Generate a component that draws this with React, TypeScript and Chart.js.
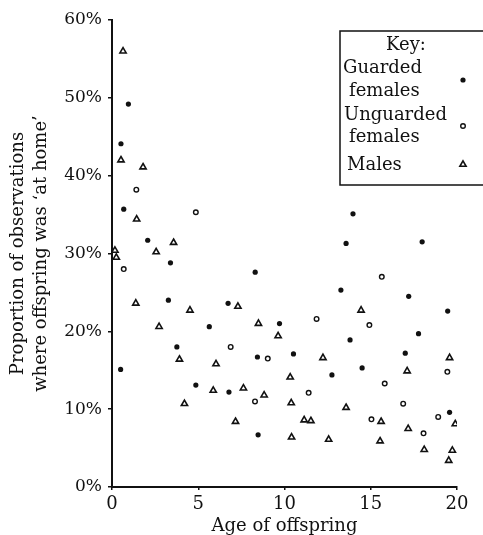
import React, { useEffect, useRef } from "react";
import { Chart, registerables } from "chart.js";

Chart.register(...registerables);

// Guarded females (filled dots)
const guardedX = [0.95, 0.52, 0.68, 2.07, 3.39, 3.27, 6.73, 5.64, 3.76, 0.5, 4.86, 6.78, 13.97, 13.57, 17.98, 8.3, 13.27, 17.2, 19.46, 9.71, 17.77, 13.8, 8.43, 10.52, 17.0, 12.75, 14.5, 19.57, 8.47];
const guardedY = [49.2, 44.1, 35.7, 31.7, 28.8, 24.0, 23.6, 20.6, 18.0, 15.1, 13.1, 12.2, 35.1, 31.3, 31.5, 27.6, 25.3, 24.5, 22.6, 21.0, 19.7, 18.9, 16.7, 17.1, 17.2, 14.4, 15.3, 9.6, 6.7];

// Unguarded females (open circles)
const unguardedX = [1.41, 4.86, 0.68, 6.88, 15.64, 11.86, 14.92, 9.03, 15.81, 19.44, 8.29, 11.4, 16.88, 18.91, 15.04, 18.06];
const unguardedY = [38.2, 35.3, 28.0, 18.0, 27.0, 21.6, 20.8, 16.5, 13.3, 14.8, 11.0, 12.1, 10.7, 9.0, 8.7, 6.9];

// Males (open triangles)
const malesX = [0.64, 0.52, 1.8, 1.43, 3.57, 0.17, 0.25, 2.56, 1.38, 4.52, 7.3, 2.73, 3.91, 6.03, 5.87, 4.2, 7.16, 14.44, 8.49, 9.63, 12.23, 19.57, 10.33, 17.11, 7.62, 8.82, 10.39, 13.57, 11.14, 11.53, 15.6, 19.9, 17.17, 10.41, 12.56, 15.54, 18.1, 19.73, 19.52];
const malesY = [56.0, 42.0, 41.1, 34.4, 31.4, 30.4, 29.5, 30.2, 23.6, 22.7, 23.2, 20.6, 16.4, 15.8, 12.4, 10.7, 8.4, 22.7, 21.0, 19.4, 16.6, 16.6, 14.1, 14.9, 12.7, 11.8, 10.8, 10.2, 8.6, 8.5, 8.4, 8.1, 7.5, 6.4, 6.1, 5.9, 4.8, 4.7, 3.4];

const yMin = 0;
const yMax = 60;
const yStep = 10;
const xMin = 0;
const xMax = 20;
const xStep = 5;

const xTitle = "Age of offspring";
const yTitle = ["Proportion of observations", "where offspring was \u2018at home\u2019"];
const legendTitle = "Key:";
const legendLabels = [["Guarded", "females"], ["Unguarded", "females"], ["Males"]];

const FONT = "'DejaVu Serif', serif";
const INK = "#111";

function toPoints(xs: number[], ys: number[]) {
  return xs.map((x, i) => ({ x, y: ys[i] }));
}

const legendPlugin = {
  id: "keyBox",
  afterDraw(chart: any) {
    const ctx = chart.ctx as CanvasRenderingContext2D;
    ctx.save();
    ctx.strokeStyle = INK;
    ctx.lineWidth = 1.5;
    ctx.fillStyle = "#fff";
    ctx.fillRect(340, 31, 160, 154);
    ctx.strokeRect(340, 31, 160, 154);
    ctx.fillStyle = INK;
    ctx.font = `18px ${FONT}`;
    ctx.textBaseline = "middle";
    ctx.textAlign = "center";
    ctx.fillText(legendTitle, 406, 45);
    ctx.textAlign = "left";
    ctx.fillText(legendLabels[0][0], 343, 68);
    ctx.fillText(legendLabels[0][1], 349, 91);
    ctx.fillText(legendLabels[1][0], 344, 115);
    ctx.fillText(legendLabels[1][1], 349, 137);
    ctx.fillText(legendLabels[2][0], 347, 165);
    // markers
    ctx.beginPath();
    ctx.arc(463, 80, 2.6, 0, Math.PI * 2);
    ctx.fill();
    ctx.beginPath();
    ctx.lineWidth = 1.4;
    ctx.arc(463, 126, 2.3, 0, Math.PI * 2);
    ctx.stroke();
    ctx.beginPath();
    ctx.lineWidth = 1.6;
    const r = 3.6;
    const cx = 463, cy = 164.5;
    for (let k = 0; k < 3; k++) {
      const a = (k * 2 * Math.PI) / 3;
      const px = cx + Math.sin(a) * r;
      const py = cy - Math.cos(a) * r;
      if (k === 0) ctx.moveTo(px, py);
      else ctx.lineTo(px, py);
    }
    ctx.closePath();
    ctx.stroke();
    ctx.restore();
  },
};

export default function App() {
  const ref = useRef<HTMLCanvasElement | null>(null);
  useEffect(() => {
    if (!ref.current) return;
    const chart = new Chart(ref.current, {
      type: "scatter",
      data: {
        datasets: [
          {
            label: "Guarded females",
            data: toPoints(guardedX, guardedY),
            pointStyle: "circle",
            pointRadius: 2.6,
            backgroundColor: INK,
            borderColor: INK,
            borderWidth: 0,
          },
          {
            label: "Unguarded females",
            data: toPoints(unguardedX, unguardedY),
            pointStyle: "circle",
            pointRadius: 2.3,
            backgroundColor: "#fff",
            borderColor: INK,
            borderWidth: 1.4,
          },
          {
            label: "Males",
            data: toPoints(malesX, malesY),
            pointStyle: "triangle",
            pointRadius: 3.6,
            backgroundColor: "#fff",
            borderColor: INK,
            borderWidth: 1.6,
          },
        ],
      },
      options: {
        responsive: false,
        animation: false,
        layout: { padding: { top: 20, right: 26, left: 0, bottom: 0 } },
        plugins: { legend: { display: false }, tooltip: { enabled: false } },
        scales: {
          x: {
            type: "linear",
            min: xMin,
            max: xMax,
            afterFit: (s: any) => {
              s.height = 48;
            },
            border: { display: true, color: INK, width: 2 },
            grid: { drawOnChartArea: false, drawTicks: true, tickLength: 3, color: INK, lineWidth: 1.5 },
            ticks: {
              stepSize: xStep,
              color: INK,
              padding: 4,
              font: { family: FONT, size: 18 },
              maxRotation: 0,
            },
            title: {
              display: true,
              text: xTitle,
              color: INK,
              font: { family: FONT, size: 18, lineHeight: 1 },
              padding: { top: 0, bottom: 0 },
            },
          },
          y: {
            type: "linear",
            min: yMin,
            max: yMax,
            afterFit: (s: any) => {
              s.width = 112;
            },
            border: { display: true, color: INK, width: 2 },
            grid: { drawOnChartArea: false, drawTicks: true, tickLength: 4, color: INK, lineWidth: 1.5 },
            ticks: {
              stepSize: yStep,
              color: INK,
              padding: 6,
              font: { family: FONT, size: 17 },
              callback: (v: any) => `${v}%`,
            },
            title: {
              display: true,
              text: yTitle,
              color: INK,
              font: { family: FONT, size: 18, lineHeight: 1.28 },
              padding: { top: 7, bottom: 0 },
            },
          },
        },
      },
      plugins: [legendPlugin],
    });
    return () => chart.destroy();
  }, []);
  return (
    <div style={{ position: "absolute", left: 0, top: 0, width: 483, height: 535 }}>
      <canvas ref={ref} width={483} height={535} style={{ display: "block" }} />
    </div>
  );
}
